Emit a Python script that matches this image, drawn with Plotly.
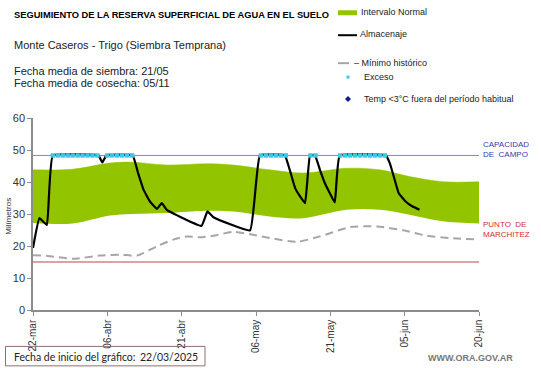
import plotly.graph_objects as go
import pandas as pd

# ---------------- data ----------------
fecha_inicio = "2025-03-22"
tick_dias = [0, 15, 30, 45, 60, 75, 90]
tick_labels = ["22-mar", "06-abr", "21-abr", "06-may", "21-may", "05-jun", "20-jun"]

band_dias = [0, 8, 15.5, 20, 27, 35, 40.4, 47.8, 54.5, 63.3, 70, 76, 82.7, 90]
band_sup = [43.8, 44.0, 45.9, 46.2, 45.3, 45.7, 45.3, 43.8, 42.8, 44.3, 43.8, 41.7, 40.1, 40.1]
band_inf = [27.2, 27.0, 29.5, 30.0, 30.3, 31.0, 30.8, 29.2, 28.7, 31.3, 31.3, 29.8, 27.7, 27.0]

min_dias = [0, 3, 8, 13.5, 17.5, 21, 25, 28.3, 31, 33.7, 36.4, 40.4, 44.4, 47.8, 53.3, 57.9, 64, 69.4, 74.7, 79.5, 84, 90]
min_hist = [17.1, 16.9, 16.0, 17.0, 17.3, 17.0, 19.9, 22.0, 23.0, 22.7, 23.2, 24.4, 23.5, 22.5, 21.3, 23.0, 25.9, 26.1, 24.9, 23.2, 22.5, 22.0]

alm_dias = [0, 1.3, 2.8, 4, 13.2, 14, 14.8, 20.1, 21.2, 22.3, 23.6, 25, 26, 27, 34, 35.2, 36.4, 43.8,
            45.8, 50.8, 51.9, 52.9, 53.9, 54.9, 55.9, 56.9, 57.9, 58.9, 59.9, 60.9, 61.9,
            71.2, 72.0, 72.8, 73.8, 75.2, 76.5, 78]
almacenaje = [19.4, 28.7, 26.6, 48.3, 48.3, 46.1, 48.3, 48.3, 42.8, 37.6, 33.9, 31.6, 33.4, 31.3, 26.3, 30.8, 29.0, 24.9,
              48.3, 48.3, 43.3, 38.1, 35.5, 33.4, 48.3, 48.3, 43.8, 39.6, 36.5, 33.6, 48.3,
              48.3, 45.9, 41.7, 36.5, 33.9, 32.4, 31.3]

exceso_dias = [4, 5, 6, 7, 8, 9, 10, 11, 12, 13, 15, 16, 17, 18, 19, 20,
               46, 47, 48, 49, 50, 51, 56, 57, 62, 63, 64, 65, 66, 67, 68, 69, 70, 71]
capacidad_campo = 48.3
punto_marchitez = 15.0

# ---------------- helpers ----------------
t0 = pd.Timestamp(fecha_inicio)
def fechas(dias):
    return [t0 + pd.Timedelta(days=d) for d in dias]

FONT = "Liberation Sans, Arial, sans-serif"
W, H = 541, 368
L, R, T, B = 33, 479, 118, 310.5
def px(x):
    return (x - L) / (R - L)
def py(y):
    return (B - y) / (B - T)

fig = go.Figure()

# normal interval band
fig.add_trace(go.Scatter(x=fechas(band_dias), y=band_inf, mode="lines",
                         line=dict(color="rgba(0,0,0,0)", width=0, shape="spline"), showlegend=False, hoverinfo="skip"))
fig.add_trace(go.Scatter(x=fechas(band_dias), y=band_sup, mode="lines", fill="tonexty",
                         fillcolor="#92C400", line=dict(color="#92C400", width=0.5, shape="spline"),
                         showlegend=False))

# reference lines
x_full = fechas([tick_dias[0], tick_dias[-1]])
fig.add_trace(go.Scatter(x=x_full, y=[capacidad_campo] * 2, mode="lines",
                         line=dict(color="#6F8FC8", width=1), showlegend=False))
fig.add_trace(go.Scatter(x=x_full, y=[punto_marchitez] * 2, mode="lines",
                         line=dict(color="#B04A4A", width=1), showlegend=False))

# historical minimum
fig.add_trace(go.Scatter(x=fechas(min_dias), y=min_hist, mode="lines",
                         line=dict(color="#A6A6A6", width=2, dash="8px,5px", shape="spline", smoothing=0.6),
                         showlegend=False))

# storage
fig.add_trace(go.Scatter(x=fechas(alm_dias), y=almacenaje, mode="lines",
                         line=dict(color="#000000", width=2.2, shape="spline", smoothing=0.3),
                         showlegend=False))

# excess markers
fig.add_trace(go.Scatter(x=fechas(exceso_dias), y=[capacidad_campo] * len(exceso_dias), mode="markers",
                         marker=dict(color="#3FC8E6", size=4.5, symbol="square", line=dict(width=0)),
                         showlegend=False))

# ---------------- legend (manual) ----------------
shapes = []
annotations = []
lx0, lx1 = 338, 357
shapes.append(dict(type="rect", xref="paper", yref="paper", x0=px(lx0), x1=px(lx1), y0=py(15), y1=py(10),
                   fillcolor="#92C400", line=dict(width=0)))
shapes.append(dict(type="line", xref="paper", yref="paper", x0=px(lx0), x1=px(lx1), y0=py(35), y1=py(35),
                   line=dict(color="black", width=2)))
shapes.append(dict(type="line", xref="paper", yref="paper", x0=px(lx0), x1=px(349), y0=py(63), y1=py(63),
                   line=dict(color="#A6A6A6", width=2)))
shapes.append(dict(type="rect", xref="paper", yref="paper", x0=px(346.5), x1=px(349.5), y0=py(78.5), y1=py(75.5),
                   fillcolor="#3FC8E6", line=dict(width=0)))
dx, dy = 348, 99
shapes.append(dict(type="path", xref="paper", yref="paper",
                   path=f"M {px(dx-3)},{py(dy)} L {px(dx)},{py(dy-3)} L {px(dx+3)},{py(dy)} L {px(dx)},{py(dy+3)} Z",
                   fillcolor="#1A1A8C", line=dict(width=0)))
leg = [("Intervalo Normal", 359, 12), ("Almacenaje", 358, 34), ("– Mínimo histórico", 352, 63),
       ("Exceso", 362, 77), ("Temp <3°C fuera del período habitual", 362, 99)]
for txt, x, y in leg:
    annotations.append(dict(text=txt, xref="paper", yref="paper", x=px(x), y=py(y), xanchor="left",
                            yanchor="middle", showarrow=False, font=dict(family=FONT, size=9, color="#222")))

# ---------------- texts ----------------
BOXFONT = "Lato, Open Sans, sans-serif"
texts = [
    dict(text="<b>SEGUIMIENTO DE LA RESERVA SUPERFICIAL DE AGUA EN EL SUELO</b>", x=px(12), y=py(15),
         font=dict(size=9.3, color="#000")),
    dict(text="Monte Caseros - Trigo (Siembra Temprana)", x=px(12), y=py(45), font=dict(size=11, color="#222")),
    dict(text="Fecha media de siembra: 21/05", x=px(12), y=py(71), font=dict(size=11, color="#222")),
    dict(text="Fecha media de cosecha: 05/11", x=px(12), y=py(83), font=dict(size=11, color="#222")),
    dict(text="CAPACIDAD<br>DE  CAMPO", x=px(481), y=py(149.5), font=dict(size=8, color="#3A3AA8")),
    dict(text="PUNTO  DE<br>MARCHITEZ", x=px(481), y=py(229.5), font=dict(size=8, color="#D03030")),
    dict(text="<b>WWW.ORA.GOV.AR</b>", x=px(426), y=py(359), font=dict(size=9, color="#777")),
    dict(text="Fecha de inicio del gráfico:", x=px(12), y=py(357.5),
         font=dict(size=10.5, color="#222", family=BOXFONT)),
    dict(text="22/03/2025", x=px(138), y=py(357.5),
         font=dict(size=10.5, color="#222", family=BOXFONT)),
]
for a in texts:
    a.update(xref="paper", yref="paper", xanchor="left", yanchor="middle", showarrow=False, align="left")
    a["font"].setdefault("family", FONT)
annotations += texts
annotations.append(dict(text="Milímetros", xref="paper", yref="paper", x=px(9), y=py(217), textangle=-90,
                        xanchor="center", yanchor="middle", showarrow=False,
                        font=dict(family=FONT, size=8, color="#333")))

shapes.append(dict(type="rect", xref="paper", yref="paper", x0=px(5.5), x1=px(205), y0=py(366.5), y1=py(347),
                   line=dict(color="#8C7272", width=1), fillcolor="rgba(0,0,0,0)"))

fig.update_layout(
    width=W, height=H, margin=dict(l=L, r=W - R, t=T, b=H - B, pad=0),
    paper_bgcolor="white", plot_bgcolor="white",
    font=dict(family=FONT, size=11, color="#333"),
    shapes=shapes, annotations=annotations,
    xaxis=dict(type="date", range=[t0, t0 + pd.Timedelta(days=tick_dias[-1])], automargin=False,
               tickvals=fechas(tick_dias), ticktext=tick_labels, tickangle=-90,
               tickfont=dict(size=10, color="#333"), showgrid=False, zeroline=False,
               showline=True, linecolor="#8C8C8C", linewidth=1.5, ticks="outside", ticklen=4,
               tickcolor="#8C8C8C"),
    yaxis=dict(range=[0, 60], tickvals=[0, 10, 20, 30, 40, 50, 60], showgrid=False, zeroline=False,
               automargin=False,
               showline=True, linecolor="#8C8C8C", linewidth=1.5, ticks="outside", ticklen=4,
               tickcolor="#8C8C8C", tickfont=dict(size=11, color="#333")),
)

fig.write_html("out.html", config={"displayModeBar": False},
               post_script="document.body.style.margin='0';document.body.style.overflow='hidden';")
